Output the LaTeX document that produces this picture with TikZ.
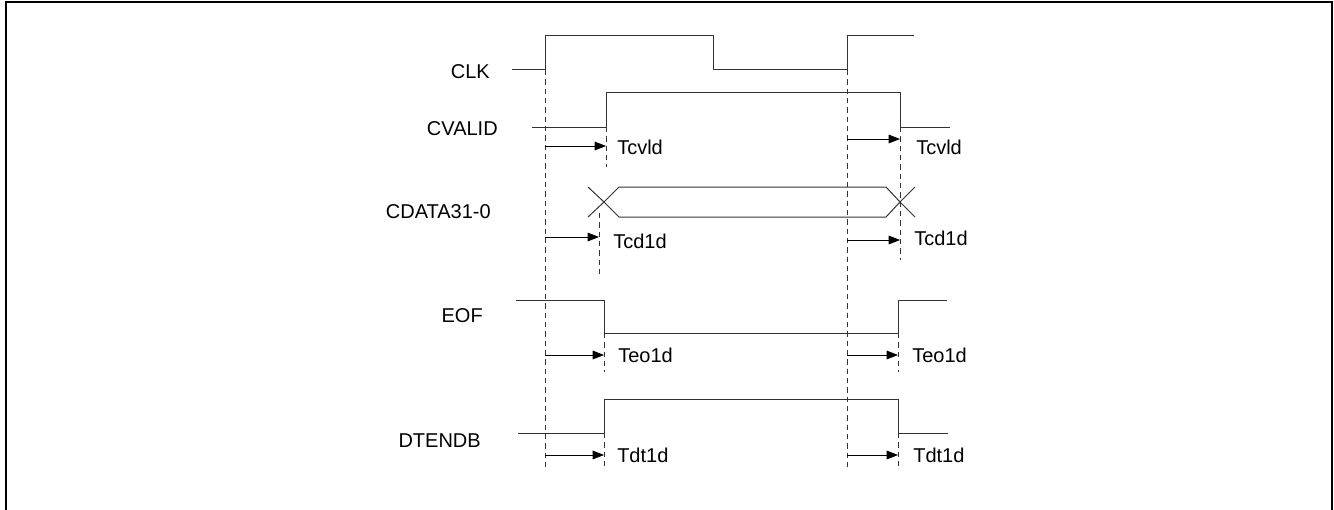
\documentclass[tikz,border=0pt]{standalone}
\usepackage{fontspec}
\setmainfont{Liberation Sans}
\usetikzlibrary{arrows.meta}

\tikzset{
  lbl/.style={font=\fontsize{15}{18}\selectfont, inner sep=0pt},
  sig/.style={line width=0.75pt, black!80},
  guide/.style={dash pattern=on 4pt off 3pt, line width=0.6pt, black!80},
  dly/.style={-{Triangle[length=8.5pt,width=6.5pt]}, line width=0.6pt}
}

\begin{document}
\begin{tikzpicture}[x=0.75pt,y=-0.75pt]
    \useasboundingbox (0,0) rectangle (1334,510);
    \draw[line width=1.5pt] (6,515) -- (6,2) -- (1332,2) -- (1332,515);

    % signal names
    \node [lbl, anchor=base east, at={(490,79)}] (clk) {CLK};
    \node [lbl, anchor=base east, at={(498,135)}] (cvalid) {CVALID};
    \node [lbl, anchor=base east, at={(491,218)}] (cdata) {CDATA31-0};
    \node [lbl, anchor=base east, at={(483,322)}] (eof) {EOF};
    \node [lbl, anchor=base east, at={(481,447)}] (dtendb) {DTENDB};

    % guides from the clock edges
    \draw[guide] (545,70) -- (545,470);
    \draw[guide] (847,70) -- (847,470);

    % waveforms
    \draw[sig] (512,70) -- (545,70) -- (545,36) -- (713,36) -- (713,70) -- (847,70) -- (847,36) -- (914,36);
    \draw[sig] (532,127) -- (606,127) -- (606,92) -- (900,92) -- (900,127) -- (950,127);
    \draw[sig] (604,202) -- (619,187) -- (886,187) -- (900,202) -- (886,217) -- (619,217) -- cycle;
    \draw[sig] (588,187) -- (604,202) -- (588,217);
    \draw[sig] (915,187) -- (900,202) -- (915,217);
    \draw[sig] (516,300) -- (604,300) -- (604,333) -- (898,333) -- (898,300) -- (947,300);
    \draw[sig] (518,433) -- (604,433) -- (604,399) -- (898,399) -- (898,433) -- (948,433);

    % delay marks
    \draw[guide] (606,127) -- (606,167);
    \draw[guide] (900,127) -- (900,260);
    \draw[guide] (599,213) -- (599,277);
    \draw[guide] (604,333) -- (604,372);
    \draw[guide] (898,333) -- (898,372);
    \draw[guide] (604,433) -- (604,470);
    \draw[guide] (898,433) -- (898,470);

    \draw[dly] (545,146) -- (606,146);
    \draw[dly] (847,139) -- (900,139);
    \draw[dly] (545,237) -- (599,237);
    \draw[dly] (847,240) -- (900,240);
    \draw[dly] (545,355) -- (604,355);
    \draw[dly] (847,355) -- (898,355);
    \draw[dly] (545,455) -- (604,455);
    \draw[dly] (847,455) -- (898,455);

    \node [lbl, anchor=base west, at={(617,154)}] (tcvld1) {Tcvld};
    \node [lbl, anchor=base west, at={(916,154)}] (tcvld2) {Tcvld};
    \node [lbl, anchor=base west, at={(613,248)}] (tcd1) {Tcd1d};
    \node [lbl, anchor=base west, at={(914,245)}] (tcd2) {Tcd1d};
    \node [lbl, anchor=base west, at={(618,362)}] (teo1) {Teo1d};
    \node [lbl, anchor=base west, at={(912,362)}] (teo2) {Teo1d};
    \node [lbl, anchor=base west, at={(617,462)}] (tdt1) {Tdt1d};
    \node [lbl, anchor=base west, at={(913,462)}] (tdt2) {Tdt1d};
\end{tikzpicture}
\end{document}
